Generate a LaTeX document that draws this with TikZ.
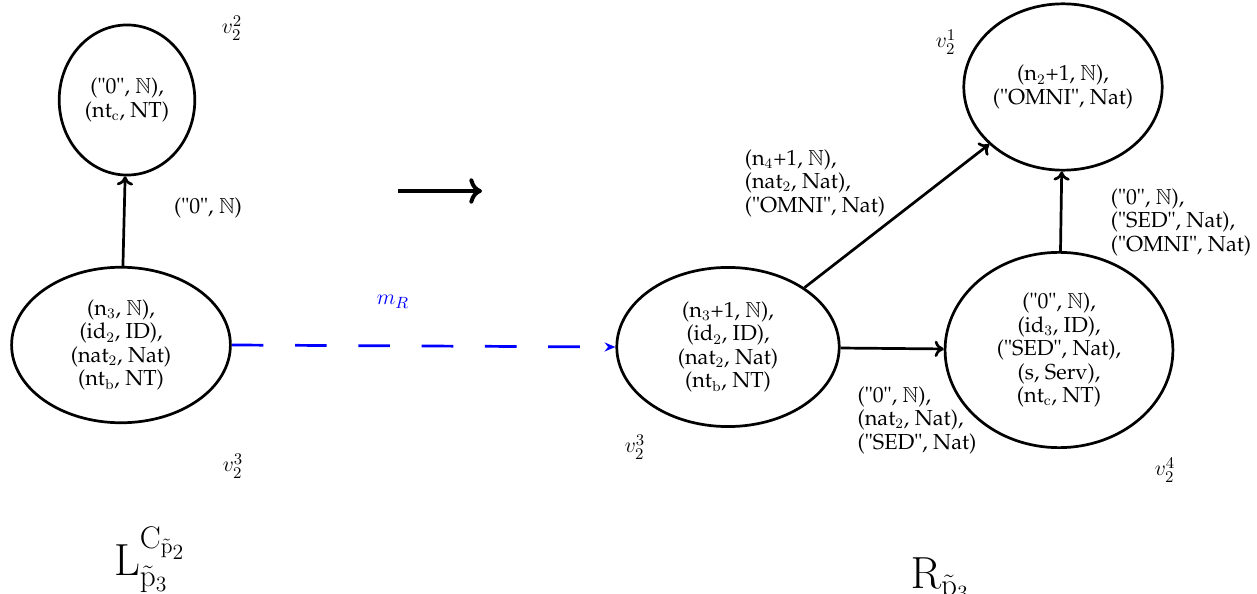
\documentclass[tikz,border=0pt]{standalone}
\usepackage[T1]{fontenc}
\usepackage{palatino}
\usepackage{amssymb}
\usetikzlibrary{arrows.meta,shapes.geometric,positioning}
\newcommand{\dq}{\textquotedbl}

\begin{document}
\begin{tikzpicture}[x=0.553pt, y=-0.553pt,
	state/.style={draw, ellipse, line width=1.5pt, inner sep=0pt,
		align=center, font=\fontsize{12}{13}\selectfont},
	lbl/.style={align=left, font=\fontsize{12}{13}\selectfont},
	tag/.style={font=\fontsize{13}{13}\selectfont},
	arr/.style={-{To[length=5pt,width=9pt]}, line width=1.5pt},
	match/.style={-{Stealth[length=6pt,width=5pt]}, blue, line width=1.5pt,
		dash pattern=on 17.5pt off 17.5pt}
]
	\useasboundingbox (0,0) rectangle (1257,594);
	% left hand side
	\node[state, minimum width=75pt, minimum height=83pt] (l2) at (127,100)
		{(\dq0\dq, $\mathbb{N}$),\\ (nt$_\mathrm{c}$, NT)};
	\node[state, minimum width=121pt, minimum height=86pt] (l3) at (121,345)
		{(n$_3$, $\mathbb{N}$),\\ (id$_2$, ID),\\ (nat$_2$, Nat)\\ (nt$_\mathrm{b}$, NT)};
	\draw[arr] (l3) -- (l2);
	\node[lbl] (e1) at (208,208) {(\dq0\dq, $\mathbb{N}$)};
	\node[tag] (v22) at (232,28) {$v_2^2$};
	\node[tag] (v23) at (233,466) {$v_2^3$};
	\node[font=\fontsize{24}{24}\selectfont] (lhs) at (150,560)
		{$\mathrm{L}^{\mathrm{C}_{\tilde{\mathrm{p}}_2}}_{\tilde{\mathrm{p}}_3}$};
	% the rule arrow
	\coordinate (ra) at (398,191);
	\coordinate (rb) at (482,191);
	\draw[line width=2.2pt, -{To[length=7pt,width=14pt]}] (ra) -- (rb);
	% right hand side
	\node[state, minimum width=123pt, minimum height=88pt] (r3) at (728,347)
		{(n$_3$+1, $\mathbb{N}$),\\ (id$_2$, ID),\\ (nat$_2$, Nat)\\ (nt$_\mathrm{b}$, NT)};
	\node[state, minimum width=103pt, minimum height=92pt] (r1) at (1063,87)
		{(n$_2$+1, $\mathbb{N}$),\\ (\dq OMNI\dq, Nat)};
	\node[state, minimum width=126pt, minimum height=108pt] (r4) at (1059,350)
		{(\dq0\dq, $\mathbb{N}$),\\ (id$_3$, ID),\\ (\dq SED\dq, Nat),\\ (s, Serv),\\ (nt$_\mathrm{c}$, NT)};
	\draw[arr] (r3) -- (r1);
	\draw[arr] (r3) -- (r4);
	\draw[arr] (r4) -- (r1);
	\node[lbl] (e2) at (815,183)
		{(n$_4$+1, $\mathbb{N}$),\\ (nat$_2$, Nat),\\ (\dq OMNI\dq, Nat)};
	\node[lbl] (e3) at (917,420)
		{(\dq0\dq, $\mathbb{N}$),\\ (nat$_2$, Nat),\\ (\dq SED\dq, Nat)};
	\node[lbl] (e4) at (1181,222)
		{(\dq0\dq, $\mathbb{N}$),\\ (\dq SED\dq, Nat),\\ (\dq OMNI\dq, Nat)};
	\node[tag] (v21) at (946,42) {$v_2^1$};
	\node[tag] (v23r) at (635,447) {$v_2^3$};
	\node[tag] (v24) at (1165,470) {$v_2^4$};
	\node[font=\fontsize{24}{24}\selectfont] (rhs) at (940,580)
		{$\mathrm{R}_{\tilde{\mathrm{p}}_3}$};
	% match
	\draw[match] (l3.east) -- (r3.west);
	\node[tag, blue] (mr) at (393,302) {$m_R$};
\end{tikzpicture}
\end{document}
